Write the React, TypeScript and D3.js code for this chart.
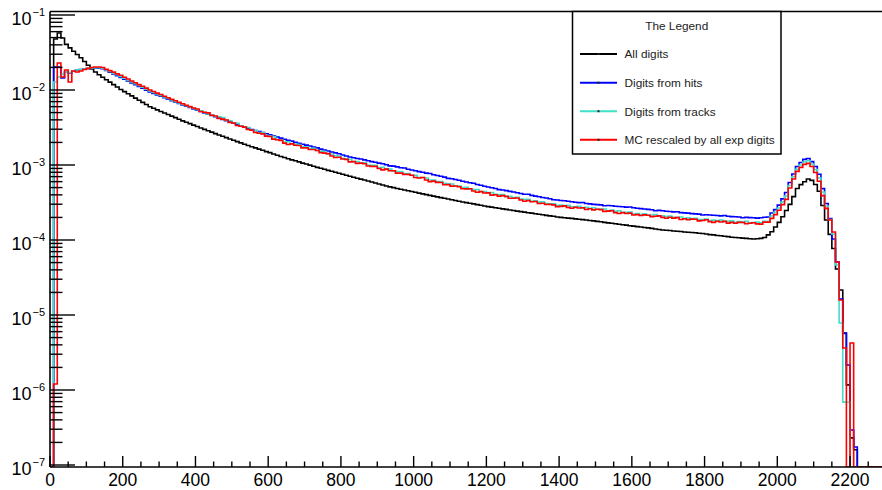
import React from "react";
import * as d3 from "d3";

// Histogram binning (x in digit units)
const X_MIN = 0;
const X_MAX = 2300;
const BIN_WIDTH = 10;

const xTickLabels = [0, 200, 400, 600, 800, 1000, 1200, 1400, 1600, 1800, 2000, 2200];
const yDecadeExponents = [-7, -6, -5, -4, -3, -2, -1];

const legendTitle = "The Legend";
const seriesNames = ["All digits", "Digits from hits", "Digits from tracks", "MC rescaled by all exp digits"];
const seriesColors = ["#000000", "#0000ff", "#40e0c8", "#ff0000"];

// bin contents, one value per 10-unit bin from 0 to 2300
const allDigits = [
  0, 0.0479, 0.0575, 0.0493, 0.0406, 0.0364, 0.0328, 0.0298, 0.0269, 0.024,
  0.0214, 0.0191, 0.0174, 0.016, 0.01479, 0.01371, 0.01273, 0.0118, 0.01094, 0.01016,
  0.00951, 0.00891, 0.00834, 0.0078, 0.0073, 0.00684, 0.0064, 0.00598, 0.0057, 0.00543,
  0.00518, 0.00493, 0.00471, 0.00449, 0.00428, 0.00407, 0.00388, 0.00372, 0.00356, 0.0034,
  0.00326, 0.00312, 0.00299, 0.00286, 0.00274, 0.00262, 0.00251, 0.00242, 0.00232, 0.00222,
  0.00214, 0.00205, 0.00197, 0.00189, 0.00182, 0.00175, 0.00169, 0.00163, 0.00157, 0.00151,
  0.00146, 0.0014, 0.00135, 0.0013, 0.00126, 0.00121, 0.00117, 0.00114, 0.0011, 0.00106,
  0.00103, 0.000995, 0.000962, 0.000931, 0.000903, 0.000877, 0.000849, 0.000824, 0.0008, 0.000776,
  0.000753, 0.00073, 0.000708, 0.000687, 0.000667, 0.000649, 0.00063, 0.000611, 0.000593, 0.000575,
  0.000558, 0.000542, 0.000526, 0.000511, 0.000499, 0.000486, 0.000475, 0.000465, 0.000453, 0.000443,
  0.000433, 0.000422, 0.000412, 0.000403, 0.000394, 0.000385, 0.000376, 0.000367, 0.00036, 0.000352,
  0.000344, 0.000336, 0.000328, 0.000321, 0.000315, 0.000309, 0.000303, 0.000296, 0.00029, 0.000284,
  0.000279, 0.000274, 0.000269, 0.000265, 0.00026, 0.000256, 0.000251, 0.000247, 0.000243, 0.000239,
  0.000235, 0.000231, 0.000228, 0.000224, 0.00022, 0.000217, 0.000213, 0.00021, 0.000207, 0.000203,
  0.0002, 0.000198, 0.000196, 0.000194, 0.000191, 0.000189, 0.000187, 0.000185, 0.000182, 0.00018,
  0.000177, 0.000175, 0.000172, 0.000169, 0.000167, 0.000165, 0.000162, 0.00016, 0.000158, 0.000155,
  0.000153, 0.000151, 0.000149, 0.000147, 0.000145, 0.000143, 0.00014, 0.000138, 0.000136, 0.000135,
  0.000134, 0.000132, 0.000131, 0.00013, 0.000128, 0.000127, 0.000126, 0.000125, 0.000123, 0.000122,
  0.00012, 0.000118, 0.000117, 0.000115, 0.000114, 0.000112, 0.000111, 0.000109, 0.000108, 0.000107,
  0.000106, 0.000105, 0.000104, 0.000103, 0.000104, 0.000105, 0.000108, 0.000117, 0.000129, 0.000149,
  0.000172, 0.000204, 0.000247, 0.000299, 0.000379, 0.000485, 0.000547, 0.000598, 0.00065, 0.000624,
  0.00055, 0.000447, 0.000288, 0.000185, 0.000119, 7.69e-5, 4.11e-5, 2.15e-5, 5.75e-6, 1.17e-6,
  2.3e-7, 1.6e-7, 0, 0, 0, 0, 0, 0, 0, 0,
];

const digitsFromHits = [
  0, 0.0203, 0.0203, 0.01445, 0.01738, 0.01685, 0.01792, 0.01848, 0.01876, 0.01905,
  0.01934, 0.01964, 0.01964, 0.01946, 0.01916, 0.0182, 0.01728, 0.01634, 0.01552, 0.01472,
  0.01394, 0.01318, 0.01244, 0.01177, 0.01113, 0.01054, 0.00994, 0.0094, 0.009, 0.0086,
  0.00824, 0.00789, 0.00756, 0.00722, 0.00692, 0.00663, 0.00633, 0.00608, 0.00585, 0.0056,
  0.00538, 0.00517, 0.00496, 0.00476, 0.00457, 0.0044, 0.00422, 0.00405, 0.0039, 0.00376,
  0.00361, 0.00348, 0.00334, 0.00321, 0.00309, 0.00298, 0.00288, 0.00279, 0.0027, 0.00261,
  0.00252, 0.00244, 0.00236, 0.00228, 0.0022, 0.00214, 0.00208, 0.00201, 0.00195, 0.00189,
  0.00184, 0.00179, 0.00174, 0.00169, 0.00163, 0.001585, 0.00154, 0.00149, 0.00145, 0.00141,
  0.00136, 0.00132, 0.00128, 0.00125, 0.00122, 0.0012, 0.00117, 0.00114, 0.00111, 0.00109,
  0.00106, 0.00104, 0.00101, 0.000975, 0.000965, 0.000944, 0.00092, 0.00091, 0.000877, 0.000858,
  0.000837, 0.000817, 0.000799, 0.00078, 0.000772, 0.000743, 0.000724, 0.000707, 0.00069, 0.000664,
  0.000657, 0.000641, 0.000625, 0.000608, 0.000593, 0.000579, 0.000571, 0.00055, 0.000536, 0.000522,
  0.000509, 0.000497, 0.000487, 0.000469, 0.000465, 0.000456, 0.000445, 0.000436, 0.000426, 0.000417,
  0.000408, 0.000407, 0.000393, 0.000385, 0.000378, 0.000369, 0.000363, 0.000355, 0.000344, 0.000342,
  0.000337, 0.000333, 0.000328, 0.000324, 0.000319, 0.000315, 0.000316, 0.000306, 0.000303, 0.000299,
  0.000296, 0.000294, 0.000286, 0.000288, 0.000286, 0.000282, 0.00028, 0.000277, 0.000274, 0.000276,
  0.000269, 0.000265, 0.000262, 0.000259, 0.000256, 0.000253, 0.000245, 0.000248, 0.000245, 0.000242,
  0.00024, 0.000237, 0.000238, 0.000232, 0.00023, 0.000228, 0.000225, 0.000223, 0.000221, 0.000215,
  0.000217, 0.000215, 0.000214, 0.000212, 0.00021, 0.000212, 0.000207, 0.000205, 0.000204, 0.000203,
  0.000198, 0.0002, 0.000199, 0.000198, 0.000196, 0.000198, 0.000201, 0.000203, 0.000229, 0.000254,
  0.000292, 0.000354, 0.00043, 0.000584, 0.000759, 0.000956, 0.00108, 0.00119, 0.00122, 0.00111,
  0.000956, 0.000752, 0.000484, 0.000306, 0.000193, 0.000103, 5.09e-5, 1.63e-5, 5.69e-6, 2.15e-6,
  2.93e-7, 1.74e-7, 0, 0, 0, 0, 0, 0, 0, 0,
];

const digitsFromTracks = [
  0, 0.01278, 0.01491, 0.01634, 0.01738, 0.01711, 0.01792, 0.01848, 0.01876, 0.01906,
  0.01935, 0.01965, 0.01977, 0.01977, 0.01953, 0.01854, 0.01771, 0.01681, 0.01598, 0.01519,
  0.01438, 0.0136, 0.01283, 0.01214, 0.01149, 0.01087, 0.01026, 0.0097, 0.00928, 0.00885,
  0.00847, 0.00808, 0.00773, 0.00738, 0.00705, 0.00674, 0.00644, 0.00618, 0.00593, 0.00568,
  0.00545, 0.00523, 0.00501, 0.00481, 0.00462, 0.00443, 0.0044, 0.0043, 0.00394, 0.00389,
  0.00366, 0.0036, 0.00333, 0.00323, 0.00316, 0.00291, 0.00288, 0.0027, 0.00268, 0.00249,
  0.00243, 0.00238, 0.00219, 0.00216, 0.00203, 0.00204, 0.00192, 0.0019, 0.00187, 0.00175,
  0.00175, 0.00166, 0.00167, 0.00156, 0.00153, 0.00151, 0.0014, 0.00139, 0.00133, 0.00132,
  0.00123, 0.00121, 0.00119, 0.00111, 0.00111, 0.00106, 0.00107, 0.001, 0.00099, 0.00099,
  0.00092, 0.00093, 0.00089, 0.00088, 0.00083, 0.00082, 0.00082, 0.00077, 0.00077, 0.00073,
  0.00073, 0.00068, 0.00068, 0.00067, 0.00063, 0.000628, 0.000601, 0.000602, 0.000568, 0.00056,
  0.000558, 0.000522, 0.000524, 0.000502, 0.000506, 0.000477, 0.000472, 0.00047, 0.000441, 0.000443,
  0.000425, 0.000428, 0.000406, 0.000403, 0.000404, 0.000379, 0.000383, 0.000368, 0.000372, 0.000351,
  0.000349, 0.00035, 0.000329, 0.000333, 0.00032, 0.000323, 0.000307, 0.000304, 0.000305, 0.000288,
  0.000292, 0.000284, 0.00029, 0.000277, 0.000278, 0.000282, 0.000266, 0.000272, 0.000265, 0.000269,
  0.000257, 0.000258, 0.000259, 0.000245, 0.00025, 0.000241, 0.000245, 0.000233, 0.000234, 0.000235,
  0.000222, 0.000226, 0.000219, 0.000224, 0.000214, 0.000215, 0.000218, 0.000207, 0.000211, 0.000205,
  0.000209, 0.0002, 0.000201, 0.000203, 0.000193, 0.000197, 0.000191, 0.000195, 0.000187, 0.000187,
  0.00019, 0.000181, 0.000184, 0.00018, 0.000184, 0.000177, 0.000177, 0.00018, 0.000172, 0.000176,
  0.000172, 0.000177, 0.00017, 0.000171, 0.000174, 0.00017, 0.000178, 0.000177, 0.000209, 0.000234,
  0.000267, 0.000321, 0.000386, 0.000533, 0.000698, 0.000879, 0.001, 0.001096, 0.001138, 0.001031,
  0.00087, 0.000671, 0.000437, 0.000284, 0.000188, 0.00012, 4.64e-5, 7.82e-6, 6.9e-7, 6.9e-7,
  0, 0, 0, 0, 0, 0, 0, 0, 0, 0,
];

const mcRescaled = [
  0, 1.2e-6, 0.0229, 0.0149, 0.0185, 0.0128, 0.0179, 0.0174, 0.0179, 0.0188,
  0.0194, 0.01995, 0.0203, 0.0203, 0.01995, 0.0189, 0.0181, 0.0173, 0.0164, 0.0157,
  0.0148, 0.014, 0.0132, 0.0125, 0.0118, 0.0112, 0.0106, 0.01, 0.00955, 0.00909,
  0.00869, 0.00827, 0.0079, 0.00754, 0.00718, 0.00685, 0.00655, 0.00627, 0.006, 0.00575,
  0.00557, 0.00517, 0.00506, 0.00496, 0.00461, 0.0045, 0.00418, 0.00409, 0.00398, 0.0037,
  0.00363, 0.00336, 0.00328, 0.0032, 0.00298, 0.00291, 0.00271, 0.00265, 0.0026, 0.00243,
  0.0024, 0.00221, 0.00217, 0.00213, 0.00196, 0.00188, 0.00191, 0.00183, 0.00182, 0.00169,
  0.00169, 0.00161, 0.00161, 0.00156, 0.00146, 0.00144, 0.00142, 0.00132, 0.00126, 0.00127,
  0.0012, 0.00119, 0.0011, 0.00111, 0.00105, 0.00106, 0.00104, 0.00097, 0.00096, 0.00096,
  0.0009, 0.00086, 0.00088, 0.00084, 0.00084, 0.00078, 0.00078, 0.00075, 0.00075, 0.00073,
  0.00068, 0.00067, 0.00068, 0.00063, 0.0006, 0.00061, 0.000586, 0.000584, 0.000546, 0.000547,
  0.000523, 0.000525, 0.000512, 0.000482, 0.000481, 0.000482, 0.000451, 0.000434, 0.000441, 0.000424,
  0.000425, 0.000397, 0.000402, 0.000385, 0.00039, 0.000382, 0.000361, 0.000361, 0.000363, 0.000341,
  0.000329, 0.000336, 0.000324, 0.000326, 0.000306, 0.000309, 0.000297, 0.000299, 0.000294, 0.000279,
  0.000281, 0.000285, 0.000272, 0.000265, 0.000273, 0.000267, 0.000269, 0.000255, 0.000261, 0.000252,
  0.000257, 0.000254, 0.000241, 0.000243, 0.000246, 0.000232, 0.000226, 0.000232, 0.000226, 0.000228,
  0.000215, 0.000218, 0.000212, 0.000216, 0.000214, 0.000205, 0.000207, 0.00021, 0.0002, 0.000195,
  0.000201, 0.000196, 0.000199, 0.000188, 0.000192, 0.000186, 0.00019, 0.000189, 0.00018, 0.000182,
  0.000186, 0.000176, 0.000172, 0.000178, 0.000174, 0.000177, 0.000168, 0.000172, 0.000167, 0.000172,
  0.000172, 0.000165, 0.000167, 0.00017, 0.000164, 0.000163, 0.000173, 0.000173, 0.000194, 0.000218,
  0.000249, 0.000296, 0.000348, 0.000494, 0.000651, 0.000822, 0.00093, 0.00102, 0.00105, 0.000956,
  0.000794, 0.000607, 0.00039, 0.000264, 0.000185, 0.000128, 5.09e-5, 1.585e-5, 3.63e-6, 0,
  4.24e-6, 0, 0, 0, 0, 0, 0, 0, 0, 0,
];

const seriesValues = [allDigits, digitsFromHits, digitsFromTracks, mcRescaled];

const FONT = "'Liberation Sans', Arial, Helvetica, sans-serif";

export default function App() {
  const W = 882;
  const H = 490;
  const frameLeft = 50;
  const frameRight = 886.4;
  const frameTop = 11.5;
  const frameBottom = 467;

  const x = d3.scaleLinear().domain([X_MIN, X_MAX]).range([frameLeft, frameRight]);
  const y = d3.scaleLog().domain([1e-7, 1e-1]).range([465, 15]);

  const yMinVisible = y.invert(frameBottom);
  const yMaxVisible = y.invert(frameTop);

  const toY = (v: number) => {
    if (!(v > 0)) return frameBottom;
    const p = y(v);
    return Math.max(frameTop, Math.min(frameBottom, p));
  };

  const line = d3.line<[number, number]>();

  const paths = seriesValues.map((vals) => {
    const pts: [number, number][] = [[x(X_MIN), frameBottom]];
    vals.forEach((v, i) => {
      const x0 = x(X_MIN + i * BIN_WIDTH);
      const x1 = x(X_MIN + (i + 1) * BIN_WIDTH);
      const yy = toY(v);
      pts.push([x0, yy]);
      pts.push([x1, yy]);
    });
    pts.push([x(X_MAX), frameBottom]);
    return line(pts) || "";
  });

  // y ticks
  const yMajor = yDecadeExponents.map((e) => Math.pow(10, e));
  const yMinor: number[] = [];
  for (let e = -8; e <= 0; e++) {
    for (let k = 2; k <= 9; k++) {
      const v = k * Math.pow(10, e);
      if (v > yMinVisible && v < yMaxVisible) yMinor.push(v);
    }
  }
  // x ticks
  const xMinor: number[] = d3.range(X_MIN, X_MAX + 1, 50).filter((v) => v % 200 !== 0);

  const legendX = 572.5;
  const legendY = 11.5;
  const legendW = 208.5;
  const legendH = 142.5;
  const rowY = [54, 82.7, 111.2, 139.8];

  return (
    <svg
      width={W}
      height={H}
      style={{ position: "absolute", left: 0, top: 0, background: "#fff" }}
      fontFamily={FONT}
    >
      <rect x={0} y={0} width={W} height={H} fill="#fff" />
      <defs>
        <clipPath id="frameClip">
          <rect x={frameLeft} y={frameTop - 1} width={frameRight - frameLeft} height={frameBottom - frameTop + 1} />
        </clipPath>
      </defs>

      {/* histograms */}
      <g clipPath="url(#frameClip)">
        {paths.map((d, i) => (
          <path key={i} d={d} fill="none" stroke={seriesColors[i]} strokeWidth={1.6} strokeLinejoin="miter" />
        ))}
      </g>

      {/* frame */}
      <line x1={frameLeft} x2={W + 10} y1={frameTop} y2={frameTop} stroke="#000" strokeWidth={1.6} />
      <line x1={frameLeft} x2={frameLeft} y1={frameTop} y2={frameBottom} stroke="#000" strokeWidth={1.6} />
      <line x1={frameLeft} x2={W + 10} y1={frameBottom} y2={frameBottom} stroke="#000" strokeWidth={1.6} />

      {/* y axis ticks */}
      {yMajor.map((v) => (
        <line key={"ym" + v} x1={frameLeft} x2={frameLeft + 25} y1={y(v)} y2={y(v)} stroke="#000" strokeWidth={1.4} />
      ))}
      {yMinor.map((v) => (
        <line key={"yn" + v} x1={frameLeft} x2={frameLeft + 12.5} y1={y(v)} y2={y(v)} stroke="#000" strokeWidth={1.4} />
      ))}
      {yDecadeExponents.map((e) => {
        const ty = y(Math.pow(10, e));
        return (
          <g key={"yl" + e}>
            <text x={31.5} y={ty + 9.5} fontSize={18} textAnchor="end" fill="#000">
              10
            </text>
            <text x={32.5} y={ty + 0.5} fontSize={11} textAnchor="start" fill="#000">
              {"\u2212" + Math.abs(e)}
            </text>
          </g>
        );
      })}

      {/* x axis ticks */}
      {xTickLabels.map((v) => (
        <line key={"xm" + v} x1={x(v)} x2={x(v)} y1={frameBottom} y2={frameBottom - 11} stroke="#000" strokeWidth={1.4} />
      ))}
      {xMinor.map((v) => (
        <line key={"xn" + v} x1={x(v)} x2={x(v)} y1={frameBottom} y2={frameBottom - 5.5} stroke="#000" strokeWidth={1.4} />
      ))}
      {xTickLabels.map((v) => (
        <text key={"xl" + v} x={x(v)} y={486} fontSize={17.5} textAnchor="middle" fill="#000">
          {String(v)}
        </text>
      ))}

      {/* legend */}
      <rect x={legendX} y={legendY} width={legendW} height={legendH} fill="#fff" stroke="#000" strokeWidth={1.5} />
      <text x={legendX + legendW / 2} y={30} fontSize={11.8} textAnchor="middle" fill="#222">
        {legendTitle}
      </text>
      {seriesNames.map((name, i) => (
        <g key={"lg" + i}>
          <line x1={580} x2={617} y1={rowY[i]} y2={rowY[i]} stroke={seriesColors[i]} strokeWidth={2} />
          <rect x={597.5} y={rowY[i] - 1} width={2} height={2} fill="#222" />
          <text x={624.5} y={rowY[i] + 4.3} fontSize={11.8} fill="#222">
            {name}
          </text>
        </g>
      ))}
    </svg>
  );
}
